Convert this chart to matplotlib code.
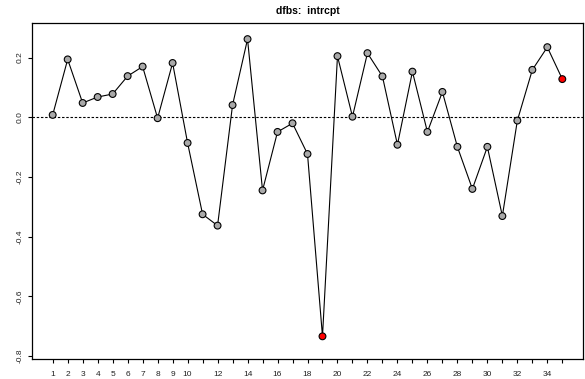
import matplotlib
matplotlib.use("Agg")
from matplotlib import pyplot as plt

plt.rcParams['font.family'] = ['Liberation Sans', 'DejaVu Sans']

# dfbetas para o intercepto, uma por estudo
estudo = list(range(1, 36))
dfbs = [0.008, 0.194, 0.048, 0.068, 0.078, 0.138, 0.170, -0.003, 0.182, -0.086,
        -0.325, -0.363, 0.041, 0.262, -0.245, -0.049, -0.020, -0.123, -0.734, 0.205,
        0.002, 0.215, 0.137, -0.092, 0.153, -0.049, 0.085, -0.099, -0.240, -0.099,
        -0.331, -0.011, 0.159, 0.235, 0.128]
influentes = [19, 35]  # pontos marcados em vermelho

rotulos_x = [1, 2, 3, 4, 5, 6, 7, 8, 9, 10, 12, 14, 16, 18, 20, 22, 24, 26, 28, 30, 32, 34]
ticks_y = [-0.8, -0.6, -0.4, -0.2, 0.0, 0.2]

fig = plt.figure(figsize=(5.85, 3.79), dpi=100)
ax = fig.add_axes([32.3 / 585, 1 - 359.3 / 379, 550.4 / 585, 336.6 / 379])

ax.axhline(0, color="black", linestyle=(0, (2.2, 1.6)), linewidth=0.8, zorder=1)
ax.plot(estudo, dfbs, color="black", linewidth=0.8, zorder=2)
cores = ["red" if e in influentes else "#a9a9a9" for e in estudo]
ax.scatter(estudo, dfbs, s=24, c=cores, edgecolors="black", linewidths=0.8, zorder=3)

ax.set_xlim(-0.36, 36.36)
ax.set_ylim(-0.811, 0.317)

ax.set_xticks(estudo)
ax.set_xticklabels([str(e) if e in rotulos_x else "" for e in estudo])
ax.set_yticks(ticks_y)
ax.set_yticklabels(["%.1f" % v for v in ticks_y], rotation=90, va="center")
ax.tick_params(axis="both", labelsize=6, length=3, width=0.8, color="black",
               labelcolor="#222222")
ax.tick_params(axis="x", pad=5.5)
ax.tick_params(axis="y", pad=3.5)

for lado in ax.spines.values():
    lado.set_linewidth(0.9)

ax.set_title("dfbs:  intrcpt", fontsize=7.5, fontweight="bold", pad=6)

fig.savefig("out.png", dpi=100)
